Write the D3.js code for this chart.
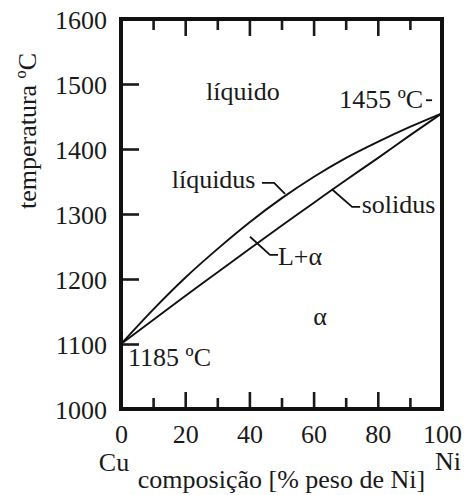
<!DOCTYPE html>
<html>
<head>
<meta charset="utf-8">
<script src="https://cdn.jsdelivr.net/npm/d3@7"></script>
<style>
  body { margin: 0; background: #fff; }
  text { font-family: "Liberation Serif", "Times New Roman", serif; fill: #1a1a1a; }
</style>
</head>
<body>
<div id="chart"></div>
<script>
// Cu-Ni phase diagram values
let composition = [0, 10, 20, 30, 40, 50, 60, 70, 80, 90, 100];
let liquidus = [1100, 1153, 1202, 1246, 1287, 1324, 1357, 1386, 1411, 1434, 1455];
let solidus = [1100, 1137, 1174, 1210, 1246, 1282, 1317, 1352, 1386, 1421, 1455];

let yTicks = [1000, 1100, 1200, 1300, 1400, 1500, 1600];
let xMajor = [0, 20, 40, 60, 80, 100];
let xMinor = [10, 30, 50, 70, 90];

// SVG setup
let svgWidth = 468;
let svgHeight = 495;
let margin = { top: 19, right: 26, bottom: 86, left: 121 };
let width = svgWidth - margin.left - margin.right;
let height = svgHeight - margin.top - margin.bottom;

let svg = d3.select('#chart').append('svg')
  .attr('width', svgWidth)
  .attr('height', svgHeight);

let chartGroup = svg.append('g')
  .attr('transform', `translate(${margin.left}, ${margin.top})`);

// scales
let x = d3.scaleLinear().domain([0, 100]).range([0, width]);
let y = d3.scaleLinear().domain([1000, 1600]).range([height, 0]);

let fontSize = 26;

// bottom axis: labelled major ticks + short minor ticks, pointing inward
let bottomAxis = chartGroup.append('g')
  .attr('transform', `translate(0, ${height})`)
  .call(d3.axisBottom(x).tickValues(xMajor).tickSize(-17).tickSizeOuter(0).tickPadding(16).tickFormat(d3.format('d')));
bottomAxis.append('g')
  .call(d3.axisBottom(x).tickValues(xMinor).tickSize(-11).tickSizeOuter(0).tickFormat(''));

// top axis ticks only
let topAxis = chartGroup.append('g')
  .call(d3.axisTop(x).tickValues(xMajor).tickSize(-17).tickSizeOuter(0).tickFormat(''));
topAxis.append('g')
  .call(d3.axisTop(x).tickValues(xMinor).tickSize(-11).tickSizeOuter(0).tickFormat(''));

// left axis
let leftAxis = chartGroup.append('g')
  .call(d3.axisLeft(y).tickValues(yTicks).tickSize(-18).tickSizeOuter(0).tickPadding(14).tickFormat(d3.format('d')));

chartGroup.selectAll('.domain').remove();
chartGroup.selectAll('.tick line')
  .attr('stroke', '#1a1a1a')
  .attr('stroke-width', 2.6);
chartGroup.selectAll('.tick text')
  .style('font-size', fontSize + 'px')
  .style('font-family', '"Liberation Serif", serif')
  .attr('fill', '#1a1a1a');
leftAxis.selectAll('.tick text').attr('dy', '0.36em');

// frame
chartGroup.append('rect')
  .attr('x', 0)
  .attr('y', 0)
  .attr('width', width)
  .attr('height', height)
  .attr('fill', 'none')
  .attr('stroke', '#111')
  .attr('stroke-width', 4);

// curves
let line = d3.line()
  .x(d => x(d[0]))
  .y(d => y(d[1]))
  .curve(d3.curveMonotoneX);

[liquidus, solidus].forEach(series => {
  chartGroup.append('path')
    .datum(composition.map((c, i) => [c, series[i]]))
    .attr('d', line)
    .attr('fill', 'none')
    .attr('stroke', '#111')
    .attr('stroke-width', 1.9);
});

// annotations (placed in data units)
let labels = [
  { text: 'líquido', c: 26.5, t: 1475, anchor: 'start' },
  { text: '1455 ºC', c: 94.1, t: 1463, anchor: 'end' },
  { text: 'líquidus', c: 15.8, t: 1340, anchor: 'start' },
  { text: 'solidus', c: 75.0, t: 1301, anchor: 'start' },
  { text: 'L+α', c: 48.9, t: 1221, anchor: 'start' },
  { text: 'α', c: 62, t: 1129, anchor: 'middle' },
  { text: '1185 ºC', c: 2.2, t: 1066, anchor: 'start' }
];

chartGroup.selectAll('.note')
  .data(labels)
  .enter()
  .append('text')
  .classed('note', true)
  .attr('x', d => x(d.c))
  .attr('y', d => y(d.t))
  .attr('text-anchor', d => d.anchor)
  .style('font-size', fontSize + 'px')
  .text(d => d.text);

// leader lines
let leaders = [
  [[43.9, 1348], [47.7, 1348], [51.1, 1331]],
  [[65.7, 1338], [72.0, 1311], [74.5, 1311]],
  [[40.2, 1265], [46.4, 1237], [48.9, 1237]],
  [[95.0, 1475], [96.9, 1475]]
];

let leaderLine = d3.line().x(d => x(d[0])).y(d => y(d[1]));
chartGroup.selectAll('.leader')
  .data(leaders)
  .enter()
  .append('path')
  .classed('leader', true)
  .attr('d', leaderLine)
  .attr('fill', 'none')
  .attr('stroke', '#111')
  .attr('stroke-width', 1.8);

// axis titles
chartGroup.append('text')
  .attr('x', x(0) - 7)
  .attr('y', height + 62)
  .attr('text-anchor', 'middle')
  .style('font-size', fontSize + 'px')
  .text('Cu');

chartGroup.append('text')
  .attr('x', x(100) + 6)
  .attr('y', height + 61)
  .attr('text-anchor', 'middle')
  .style('font-size', fontSize + 'px')
  .text('Ni');

chartGroup.append('text')
  .attr('x', x(50))
  .attr('y', height + 79)
  .attr('text-anchor', 'middle')
  .style('font-size', fontSize + 'px')
  .text('composição [% peso de Ni]');

chartGroup.append('text')
  .attr('transform', `translate(${36 - margin.left}, ${131 - margin.top}) rotate(-90)`)
  .attr('text-anchor', 'middle')
  .style('font-size', '26px')
  .text('temperatura ºC');
</script>
</body>
</html>
